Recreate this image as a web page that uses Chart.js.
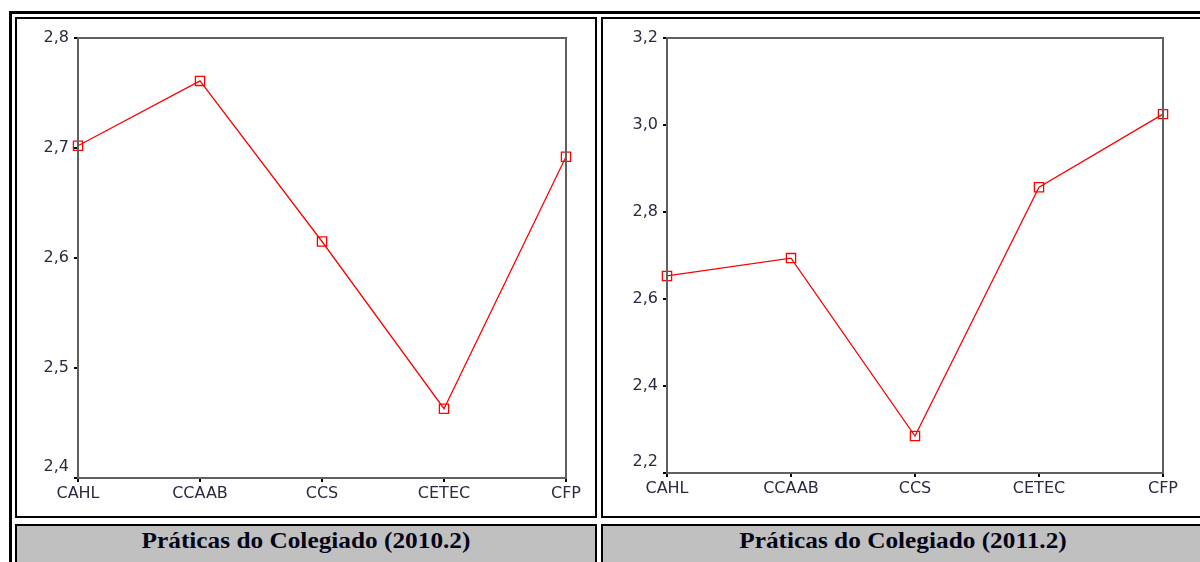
<!DOCTYPE html>
<html>
<head>
<meta charset="utf-8">
<title>Práticas do Colegiado</title>
<script src="https://cdn.jsdelivr.net/npm/chart.js@4.4.0/dist/chart.umd.min.js"></script>
<style>
  html, body { margin: 0; padding: 0; background: #fff; overflow: hidden; }
  .box { position: absolute; box-sizing: border-box; border: 2px solid #000; }
  #frame { left: 9px; top: 11px; width: 1210px; height: 570px; border-width: 3px; }
  .cell { top: 17px; height: 501px; background: #fff; }
  .cap { top: 524px; height: 50px; background: #c0c0c0; }
  .cap span {
    position: absolute; top: 2px; left: 0; right: 0; text-align: center;
    font: bold 23px "Liberation Serif", "Times New Roman", serif; color: #05051a;
    transform: scaleX(1.1);
  }
  canvas { position: absolute; }
</style>
</head>
<body>
<div class="box" id="frame"></div>
<div class="box cell" style="left:15px;width:582px"></div>
<div class="box cell" style="left:601px;width:610px"></div>
<div class="box cap" style="left:15px;width:582px"><span>Práticas do Colegiado (2010.2)</span></div>
<div class="box cap" style="left:601px;width:604px"><span>Práticas do Colegiado (2011.2)</span></div>
<canvas id="c2010" width="578" height="497" style="left:17px;top:19px"></canvas>
<canvas id="c2011" width="597" height="497" style="left:603px;top:19px"></canvas>

<script>
// centros
var centros = ['CAHL', 'CCAAB', 'CCS', 'CETEC', 'CFP'];

// médias 2010.2
var medias2010 = [2.702, 2.761, 2.615, 2.463, 2.692];
var yTicks2010 = [2.4, 2.5, 2.6, 2.7, 2.8];

// médias 2011.2
var medias2011 = [2.653, 2.694, 2.285, 2.857, 3.025];
var yTicks2011 = [2.2, 2.4, 2.6, 2.8, 3.0, 3.2];

var textColor = '#2a2a40';
var tickFont = { family: '"DejaVu Sans", sans-serif', size: 16, lineHeight: 1.35 };

// caixa cinza em volta da área do gráfico
var plotFrame = {
  id: 'plotFrame',
  afterDraw: function (chart) {
    var a = chart.chartArea, ctx = chart.ctx;
    ctx.save();
    ctx.strokeStyle = '#606060';
    ctx.lineWidth = 2;
    ctx.strokeRect(a.left, a.top, a.right - a.left, a.bottom - a.top);
    ctx.restore();
  }
};

function makeChart(id, data, ticks, pad, yWidth, xHeight) {
  var min = ticks[0], max = ticks[ticks.length - 1];
  return new Chart(document.getElementById(id), {
    type: 'line',
    data: {
      labels: centros,
      datasets: [{
        data: data,
        borderColor: '#ff0000',
        borderWidth: 1.3,
        tension: 0,
        pointStyle: 'rect',
        pointRadius: 6.5,
        pointBorderWidth: 1.3,
        pointBorderColor: '#ff0000',
        pointBackgroundColor: 'rgba(0,0,0,0)',
        clip: false
      }]
    },
    options: {
      responsive: false,
      animation: false,
      layout: { padding: pad },
      plugins: { legend: { display: false }, tooltip: { enabled: false } },
      scales: {
        x: {
          offset: false,
          grid: { drawOnChartArea: false, drawTicks: true, tickLength: 4, color: '#000', lineWidth: 2 },
          border: { display: false },
          ticks: { color: textColor, font: tickFont, padding: 1, maxRotation: 0, autoSkip: false },
          afterFit: function (s) { s.height = xHeight; }
        },
        y: {
          min: min,
          max: max,
          afterBuildTicks: function (s) { s.ticks = ticks.map(function (v) { return { value: v }; }); },
          grid: { drawOnChartArea: false, drawTicks: true, tickLength: 4, color: '#000', lineWidth: 2 },
          border: { display: false },
          ticks: {
            color: textColor, font: tickFont, padding: 5,
            callback: function (v) {
              var t = v.toFixed(1).replace('.', ',');
              // o rótulo mais baixo fica um pouco acima do eixo
              return v === min ? [t, ''] : t;
            }
          },
          afterFit: function (s) { s.width = yWidth; }
        }
      }
    },
    plugins: [plotFrame]
  });
}

makeChart('c2010', medias2010, yTicks2010, { top: 19, right: 29, left: 0, bottom: 0 }, 61, 38);
makeChart('c2011', medias2011, yTicks2011, { top: 19, right: 37, left: 0, bottom: 0 }, 64, 43);
</script>
</body>
</html>
